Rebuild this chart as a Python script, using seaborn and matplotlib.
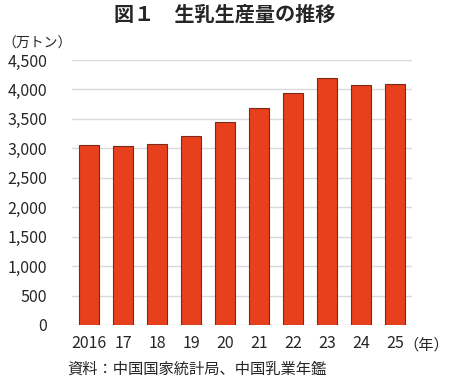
import numpy as np
import pandas as pd
import matplotlib
matplotlib.use("Agg")
import matplotlib.pyplot as plt
import seaborn as sns

# データ
years = ["2016", "17", "18", "19", "20", "21", "22", "23", "24", "25"]
production = [3064, 3039, 3075, 3201, 3440, 3683, 3932, 4197, 4079, 4090]
ytick_values = [0, 500, 1000, 1500, 2000, 2500, 3000, 3500, 4000, 4500]

sns.set_style("white")
plt.rcParams['font.family'] = ['Noto Sans CJK JP', 'DejaVu Sans']

df = pd.DataFrame({"year": years, "value": production})

fig = plt.figure(figsize=(4.5, 3.81), dpi=100)
ax = fig.add_axes([0.16, 0.147, 0.7556, 0.6955])

sns.barplot(data=df, x="year", y="value", ax=ax, color="#E8401C",
            edgecolor="#7A2A1A", linewidth=0.8, width=0.57, saturation=1)

ax.set_ylim(0, 4500)
ax.set_yticks(ytick_values)
ax.set_yticklabels([f"{v:,}" for v in ytick_values], fontsize=11.5)
ax.set_xticklabels(years, fontsize=11.5)
ax.set_xlabel("")
ax.set_ylabel("")
ax.yaxis.grid(True, color="#D9D9D9", linewidth=1)
ax.set_axisbelow(True)
for s in ax.spines.values():
    s.set_visible(False)
ax.tick_params(axis="both", length=0)
ax.tick_params(axis="y", pad=18)
ax.tick_params(axis="x", pad=7)
ax.set_xlim(-0.5, len(years) - 0.5)

# タイトルと注記
fig.text(0.5, 0.962, "図１　生乳生産量の推移", ha="center", va="center",
         fontsize=14.5, fontweight="bold")
fig.text(0.005, 0.885, "（万トン）", ha="left", va="center", fontsize=10)
fig.text(0.998, 0.095, "（年）", ha="right", va="center", fontsize=11)
fig.text(0.15, 0.03, "資料：中国国家統計局、中国乳業年鑑", ha="left", va="center",
         fontsize=11)

fig.savefig("out.png", dpi=100)
